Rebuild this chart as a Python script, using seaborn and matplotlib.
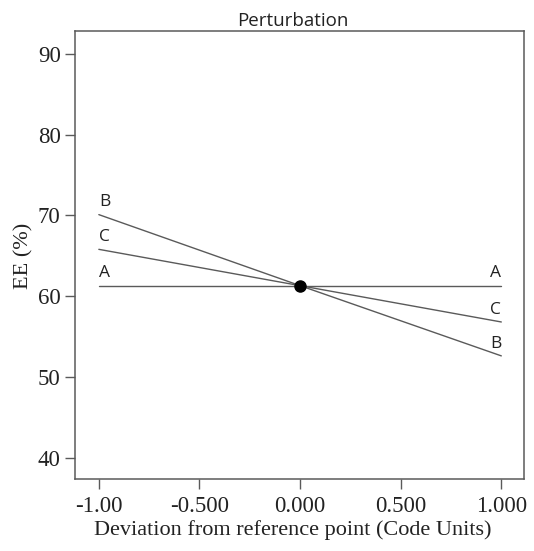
import matplotlib
matplotlib.use("Agg")
import matplotlib.pyplot as plt
import seaborn as sns
import pandas as pd

# perturbation data (coded deviation vs EE %)
factores = ["A", "B", "C"]
desviacion = [-1.0, 0.0, 1.0]
ee_A = [61.3, 61.3, 61.3]
ee_B = [70.1, 61.3, 52.6]
ee_C = [65.8, 61.3, 56.8]
punto_ref = [0.0, 61.3]

xticks = [-1.0, -0.5, 0.0, 0.5, 1.0]
xtick_labels = ["-1.00", "-0.500", "0.000", "0.500", "1.000"]
yticks = [40, 50, 60, 70, 80, 90]

series = {"A": ee_A, "B": ee_B, "C": ee_C}
df = pd.DataFrame({
    "dev": desviacion * 3,
    "ee": ee_A + ee_B + ee_C,
    "factor": [f for f in factores for _ in desviacion],
})

sns.set_style("white")
gris = "#5a5a5a"

fig = plt.figure(figsize=(5.34, 5.51), dpi=100)
ax = fig.add_axes([0.141, 0.130, 0.840, 0.813])

sns.lineplot(data=df, x="dev", y="ee", hue="factor",
             palette={f: gris for f in factores}, linewidth=1.0,
             legend=False, ax=ax)
ax.plot(punto_ref[0], punto_ref[1], "o", color="black", markersize=8, zorder=5)

# etiquetas de cada factor en los extremos
for f in factores:
    vals = series[f]
    ax.annotate(f, (desviacion[0], vals[0]), xytext=(0, 3), textcoords="offset points",
                ha="left", va="bottom", fontsize=12.5, family="Open Sans", color="#222222")
    ax.annotate(f, (desviacion[-1], vals[-1]), xytext=(0, 3), textcoords="offset points",
                ha="right", va="bottom", fontsize=12.5, family="Open Sans", color="#222222")

ax.set_xlim(-1.117, 1.112)
ax.set_ylim(37.3, 92.8)
ax.set_xticks(xticks)
ax.set_xticklabels(xtick_labels)
ax.set_yticks(yticks)

for s in ax.spines.values():
    s.set_color(gris)
    s.set_linewidth(1.1)

ax.tick_params(axis="both", direction="out", length=7, width=1, color=gris,
               labelsize=16.5, bottom=True, left=True)
ax.tick_params(axis="x", pad=5)
for lab in ax.get_xticklabels() + ax.get_yticklabels():
    lab.set_family("Liberation Serif")
    lab.set_color("#222222")

ax.set_xlabel("Deviation from reference point (Code Units)", family="Liberation Serif",
              fontsize=16, color="#222222", labelpad=4)
ax.xaxis.set_label_coords(0.484, -0.092)
ax.set_ylabel("EE (%)", family="Liberation Serif", fontsize=16, color="#222222", labelpad=3)
ax.set_title("Perturbation", family="Open Sans", fontsize=13.5, color="#222222", pad=4, x=0.484)

plt.savefig("out.png", dpi=100)
